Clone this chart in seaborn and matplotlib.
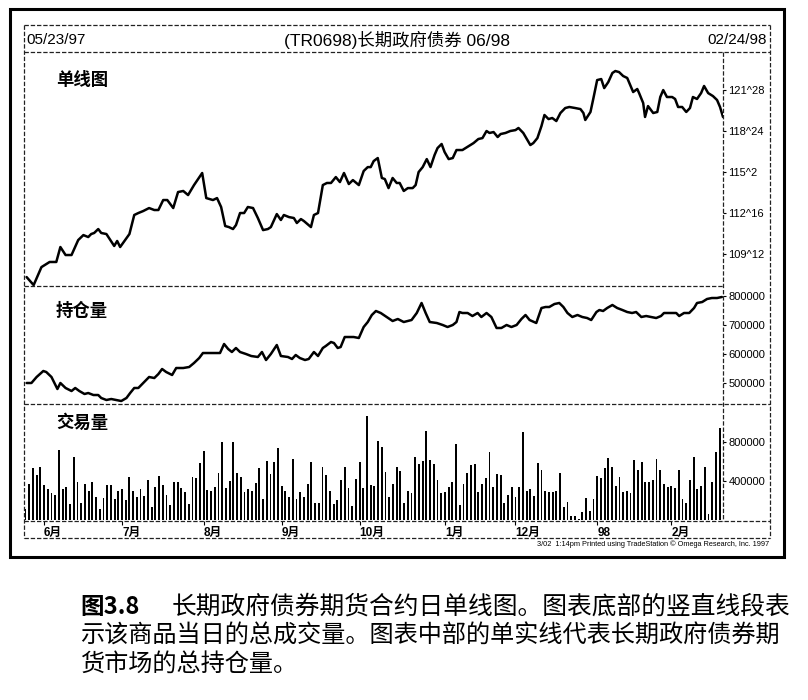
import matplotlib
matplotlib.use("Agg")
import matplotlib.pyplot as plt
from matplotlib.lines import Line2D
from matplotlib.patches import Rectangle
import seaborn as sns

sns.set_theme(style="white")
plt.rcParams["font.family"] = ["Liberation Sans", "Noto Sans CJK SC", "DejaVu Sans"]

# ---------------- data ----------------
header_left = "05/23/97"
header_title = "(TR0698)长期政府债券 06/98"
header_right = "02/24/98"
panel_titles = ["单线图", "持仓量", "交易量"]

# trading-day index and closing price (points)
price_days = [0.3, 2.2, 4.3, 6.5, 8.3, 9.4, 10.8, 12.4, 14.2, 15.6, 16.9, 17.7, 18.5, 19.6, 20.4, 21.8,
              23.9, 24.7, 25.5, 28.0, 29.3, 30.4, 31.7, 33.3, 34.7, 35.8, 37.1, 38.2, 39.8, 41.1, 42.5,
              43.8, 45.4, 47.6, 48.7, 50.5, 51.6, 52.7, 53.8, 54.8, 55.9, 56.7, 57.8, 58.9, 59.9, 61.3,
              62.6, 64.0, 65.3, 66.1, 67.7, 68.8, 69.6, 71.0, 72.3, 73.1, 74.2, 75.0, 76.9, 77.7, 78.8,
              80.1, 81.2, 82.3, 83.6, 84.7, 85.8, 87.1, 88.2, 89.8, 91.1, 92.2, 93.0, 93.8, 94.9, 96.0,
              96.8, 97.8, 98.9, 100.0, 100.8, 101.9, 103.0, 104.3, 105.1, 105.9, 107.0, 108.1, 109.1,
              110.2, 111.0, 112.1, 112.9, 114.0, 115.1, 116.1, 117.7, 119.4, 120.7, 122.0, 123.1, 124.2,
              125.0, 126.1, 127.2, 128.0, 129.3, 130.6, 132.0, 132.8, 134.1, 135.2, 136.0, 136.8, 137.9,
              139.0, 139.8, 140.9, 141.9, 143.0, 144.1, 145.4, 146.5, 148.1, 149.5, 150.3, 150.8, 152.2,
              153.0, 154.0, 155.1, 155.9, 157.0, 158.1, 158.9, 159.9, 161.0, 162.1, 162.9, 163.7, 164.8,
              165.3, 166.4, 166.9, 167.7, 169.1, 170.2, 171.0, 171.8, 172.8, 174.2, 175.0, 175.8, 176.9,
              178.0, 179.0, 179.8, 180.9, 182.0, 182.8, 183.9, 185.2, 186.3, 187.1, 187.9]
price_vals = [107.62, 107.01, 108.38, 108.77, 108.77, 109.91, 109.30, 109.30, 110.44, 110.82, 110.67,
              110.90, 110.98, 111.28, 110.98, 110.90, 109.99, 110.37, 109.91, 110.90, 112.35, 112.50,
              112.65, 112.88, 112.73, 112.73, 113.49, 113.49, 112.88, 114.10, 114.18, 113.87, 114.63,
              115.55, 113.64, 113.49, 113.64, 112.96, 111.51, 111.43, 111.28, 111.58, 112.50, 112.50,
              112.96, 112.88, 112.12, 111.20, 111.28, 111.43, 112.42, 111.97, 112.35, 112.19, 112.12,
              111.74, 112.04, 111.89, 111.43, 112.35, 112.50, 114.63, 114.79, 114.79, 115.24, 114.86,
              115.55, 114.71, 115.01, 114.63, 115.70, 116.00, 116.00, 116.46, 116.69, 115.17, 115.09,
              114.40, 115.17, 114.79, 114.79, 114.18, 114.40, 114.40, 114.63, 115.62, 116.00, 116.61,
              116.00, 116.92, 117.45, 117.76, 117.15, 116.61, 116.69, 117.30, 117.30, 117.60, 117.83,
              118.14, 118.21, 118.75, 118.60, 118.67, 118.29, 118.52, 118.60, 118.75, 118.82, 118.98,
              118.60, 118.06, 117.68, 117.83, 118.21, 119.13, 119.97, 119.66, 119.74, 119.51, 120.12,
              120.50, 120.58, 120.50, 120.42, 120.12, 119.59, 120.20, 121.26, 122.63, 122.71, 122.02,
              122.48, 123.17, 123.32, 123.24, 122.94, 122.79, 122.25, 121.72, 121.95, 121.64, 120.88,
              119.82, 120.65, 120.12, 120.20, 121.34, 121.87, 121.34, 121.34, 121.19, 120.58, 120.58,
              120.20, 120.50, 121.34, 121.19, 121.64, 122.18, 121.64, 121.41, 121.11, 120.58, 119.82]

# open interest (contracts, thousands)
oi_days = [0.3, 1.6, 3.0, 4.8, 5.6, 7.0, 8.6, 9.4, 10.8, 12.4, 13.4, 14.5, 15.9, 16.9, 18.3, 19.6, 20.4,
           21.8, 23.1, 24.5, 25.8, 27.2, 28.2, 29.3, 30.4, 31.7, 33.3, 34.7, 35.8, 36.8, 37.9, 39.5, 40.6,
           42.5, 44.1, 45.4, 46.8, 47.8, 49.2, 50.8, 52.4, 53.5, 54.6, 55.6, 56.7, 57.8, 59.4, 60.8, 62.6,
           63.7, 64.8, 66.1, 67.7, 68.8, 70.7, 71.8, 72.8, 73.9, 75.3, 76.3, 77.7, 78.8, 80.1, 80.9, 82.3,
           83.1, 84.1, 84.9, 86.0, 87.1, 88.4, 89.8, 91.1, 92.2, 93.3, 94.4, 95.7, 97.3, 98.9, 100.3,
           101.9, 104.0, 105.4, 106.7, 107.8, 108.9, 110.8, 112.4, 113.7, 115.1, 116.1, 116.9, 117.7,
           119.1, 120.4, 121.8, 122.8, 124.2, 125.5, 126.9, 128.2, 129.6, 130.9, 132.3, 133.6, 134.7,
           135.8, 137.6, 139.0, 140.1, 141.1, 142.5, 143.8, 144.9, 146.0, 147.3, 148.7, 150.0, 151.3,
           152.4, 153.8, 154.6, 155.6, 156.7, 158.1, 159.4, 160.8, 162.1, 163.4, 164.5, 165.9, 167.2,
           168.5, 169.9, 171.2, 172.0, 173.9, 175.3, 176.1, 177.4, 178.8, 180.1, 180.9, 182.3, 183.6,
           184.9, 186.3, 187.6]
oi_vals_k = [500, 500, 520.7, 541.4, 537.9, 520.7, 479.3, 500, 482.8, 472.4, 482.8, 472.4, 462.1, 465.5,
             458.6, 458.6, 448.3, 441.4, 444.8, 441.4, 437.9, 448.3, 465.5, 482.8, 482.8, 500, 520.7,
             517.2, 531.0, 548.3, 537.9, 527.6, 551.7, 551.7, 555.2, 569.0, 586.2, 603.4, 603.4, 603.4,
             603.4, 634.5, 617.2, 606.9, 620.7, 606.9, 600.0, 593.1, 589.7, 606.9, 579.3, 600.0, 631.0,
             593.1, 589.7, 582.8, 596.6, 586.2, 579.3, 582.8, 606.9, 593.1, 620.7, 627.6, 641.4, 637.9,
             620.7, 624.1, 658.6, 658.6, 658.6, 655.2, 693.1, 710.3, 734.5, 748.3, 741.4, 727.6, 713.8,
             720.7, 710.3, 717.2, 741.4, 775.9, 741.4, 710.3, 706.9, 700.0, 693.1, 700.0, 710.3, 744.8,
             741.4, 741.4, 731.0, 741.4, 727.6, 741.4, 727.6, 689.7, 689.7, 700.0, 693.1, 700.0, 720.7,
             734.5, 717.2, 706.9, 758.6, 762.1, 762.1, 772.4, 775.9, 762.1, 741.4, 727.6, 734.5, 727.6,
             724.1, 717.2, 744.8, 751.7, 748.3, 758.6, 769.0, 758.6, 751.7, 744.8, 741.4, 744.8, 727.6,
             731.0, 727.6, 724.1, 731.0, 741.4, 741.4, 741.4, 731.0, 741.4, 741.4, 758.6, 775.9, 779.3,
             789.7, 793.1, 793.1, 796.6]

# daily volume (contracts, thousands), one value per trading day
volume_k = [109, 369, 530, 462, 540, 356, 315, 274, 256, 718, 315, 342, 164, 643, 386, 171, 366, 297, 393,
            239, 116, 222, 356, 356, 212, 297, 315, 205, 438, 301, 239, 321, 246, 407, 137, 335, 455, 359,
            253, 154, 393, 393, 325, 284, 164, 438, 427,
            581, 711, 308, 297, 335, 485, 797, 325, 403, 797, 485, 444, 287, 318, 297, 383, 537, 215, 609,
            472, 592, 735, 349, 301, 232, 629, 212, 291, 239, 369, 592, 174, 171, 547, 462, 301, 168, 202,
            407, 544, 332, 144, 421, 592, 332, 1067, 359,
            349, 810, 752, 496, 232, 369, 547, 503, 171, 301, 274, 643, 574, 605, 916, 615, 574, 410, 280,
            287, 335, 386, 780, 154, 369, 485, 564, 571, 287, 366, 427, 697, 342, 472, 462, 171, 253, 335,
            239, 335, 906, 301, 315, 246, 588, 513, 301, 284,
            284, 294, 485, 137, 188, 41, 41, 8, 79, 222, 92, 215, 451, 431, 533, 633, 540, 349, 441, 291,
            301, 277, 615, 513, 595, 393, 393, 410, 622, 513, 366, 335, 349, 332, 513, 212, 171, 407, 643,
            315, 349, 540, 62, 393, 694, 940]
volume_days = list(range(len(volume_k)))

month_days = [5, 26, 48, 69, 90, 113, 132, 154, 174]
month_labels = ["6月", "7月", "8月", "9月", "10月", "1月", "12月", "98", "2月"]

price_ticks = [109.375, 112.5, 115.625, 118.75, 121.875]
price_tick_labels = ["109^12", "112^16", "115^2", "118^24", "121^28"]
oi_ticks = [500000, 600000, 700000, 800000]
vol_ticks = [400000, 800000]

caption_head = "图3.8"
caption_lines = ["长期政府债券期货合约日单线图。图表底部的竖直线段表",
                 "示该商品当日的总成交量。图表中部的单实线代表长期政府债券期",
                 "货市场的总持仓量。"]
footer = "3/02  1:14pm Printed using TradeStation © Omega Research, Inc. 1997"

# ---------------- figure ----------------
W, H = 808, 700
fig = plt.figure(figsize=(W / 100, H / 100), dpi=100)
fig.patch.set_facecolor("white")


def rect(x0, y0, x1, y1):
    return [x0 / W, 1 - y1 / H, (x1 - x0) / W, (y1 - y0) / H]


def fx(x):
    return x / W


def fy(y):
    return 1 - y / H


ax_p = fig.add_axes(rect(24, 52, 723, 286))
ax_o = fig.add_axes(rect(24, 286, 723, 404), sharex=ax_p)
ax_v = fig.add_axes(rect(24, 404, 723, 521), sharex=ax_p)

oi_vals = [v * 1000 for v in oi_vals_k]
vol_vals = [v * 1000 for v in volume_k]

sns.lineplot(x=price_days, y=price_vals, ax=ax_p, color="black", linewidth=1.8,
             estimator=None, sort=False)
sns.lineplot(x=oi_days, y=oi_vals, ax=ax_o, color="black", linewidth=1.8,
             estimator=None, sort=False)
ax_v.bar(volume_days, vol_vals, width=0.5, color="black", linewidth=0)

ax_p.set_xlim(-0.4, 187.9)
ax_p.set_ylim(106.94, 124.77)
ax_o.set_ylim(427600, 834500)
ax_v.set_ylim(-10000, 1190000)

for ax in (ax_p, ax_o, ax_v):
    ax.set_facecolor("none")
    for s in ax.spines.values():
        s.set_visible(False)
    ax.grid(False)
    ax.set_xlabel("")
    ax.set_ylabel("")
    ax.yaxis.tick_right()
    ax.tick_params(axis="y", which="both", right=True, left=False, length=2.5, width=0.8,
                   pad=1.5, labelsize=8, colors="black", direction="out")

for ax in (ax_p, ax_o):
    ax.tick_params(axis="x", bottom=False, labelbottom=False)

ax_p.set_yticks(price_ticks)
ax_p.set_yticklabels(price_tick_labels)
ax_o.set_yticks(oi_ticks)
ax_o.set_yticklabels([f"{t:d}" for t in oi_ticks])
ax_v.set_yticks(vol_ticks)
ax_v.set_yticklabels([f"{t:d}" for t in vol_ticks])

ax_v.set_xticks(month_days)
ax_v.set_xticklabels(month_labels, ha="left", fontsize=8.5, fontweight="bold")
ax_v.tick_params(axis="x", bottom=True, length=3, width=0.8, pad=1, direction="out", colors="black")

# panel titles
for ax, t, yy in zip((ax_p, ax_o, ax_v), panel_titles, (80, 311, 423)):
    fig.text(fx(56), fy(yy), t, ha="left", va="center", fontsize=12.5, fontweight="bold",
             family=["Noto Sans CJK SC", "DejaVu Sans"], color="black")

# header
fig.text(fx(26), fy(40), header_left, ha="left", va="center", fontsize=11, color="black")
fig.text(fx(397), fy(40), header_title, ha="center", va="center", fontsize=12.5,
         fontweight="medium", color="black")
fig.text(fx(767), fy(40), header_right, ha="right", va="center", fontsize=11, color="black")

# frames (dashed chart grid, solid outer border)
dash = dict(color="#222222", linewidth=0.9, linestyle=(0, (3.5, 1.5)))
segments = [((24, 25), (770, 25)), ((24, 52), (770, 52)), ((24, 25), (24, 538)),
            ((770, 25), (770, 538)), ((723, 52), (723, 521)), ((24, 286), (723, 286)),
            ((24, 404), (770, 404)), ((24, 521), (770, 521)), ((24, 538), (770, 538))]
for (x0, y0), (x1, y1) in segments:
    fig.add_artist(Line2D([fx(x0), fx(x1)], [fy(y0), fy(y1)], transform=fig.transFigure, **dash))
fig.add_artist(Rectangle((fx(10), fy(557)), fx(784) - fx(10), fy(9) - fy(557),
                         transform=fig.transFigure, fill=False, edgecolor="black", linewidth=2.2))

fig.text(fx(769), fy(544), footer, ha="right", va="center", fontsize=5.3, color="black")

# caption
cap_family = ["Noto Sans CJK SC", "DejaVu Sans"]
fig.text(fx(80), fy(607), caption_head, ha="left", va="center", fontsize=17, fontweight="bold",
         family=cap_family, color="black")
fig.text(fx(790), fy(607), caption_lines[0], ha="right", va="center", fontsize=17.8,
         family=cap_family, color="black")
fig.text(fx(80), fy(636), caption_lines[1], ha="left", va="center", fontsize=17.4,
         family=cap_family, color="black")
fig.text(fx(80), fy(664), caption_lines[2], ha="left", va="center", fontsize=17.4,
         family=cap_family, color="black")

fig.savefig("out.png", dpi=100, facecolor="white")
